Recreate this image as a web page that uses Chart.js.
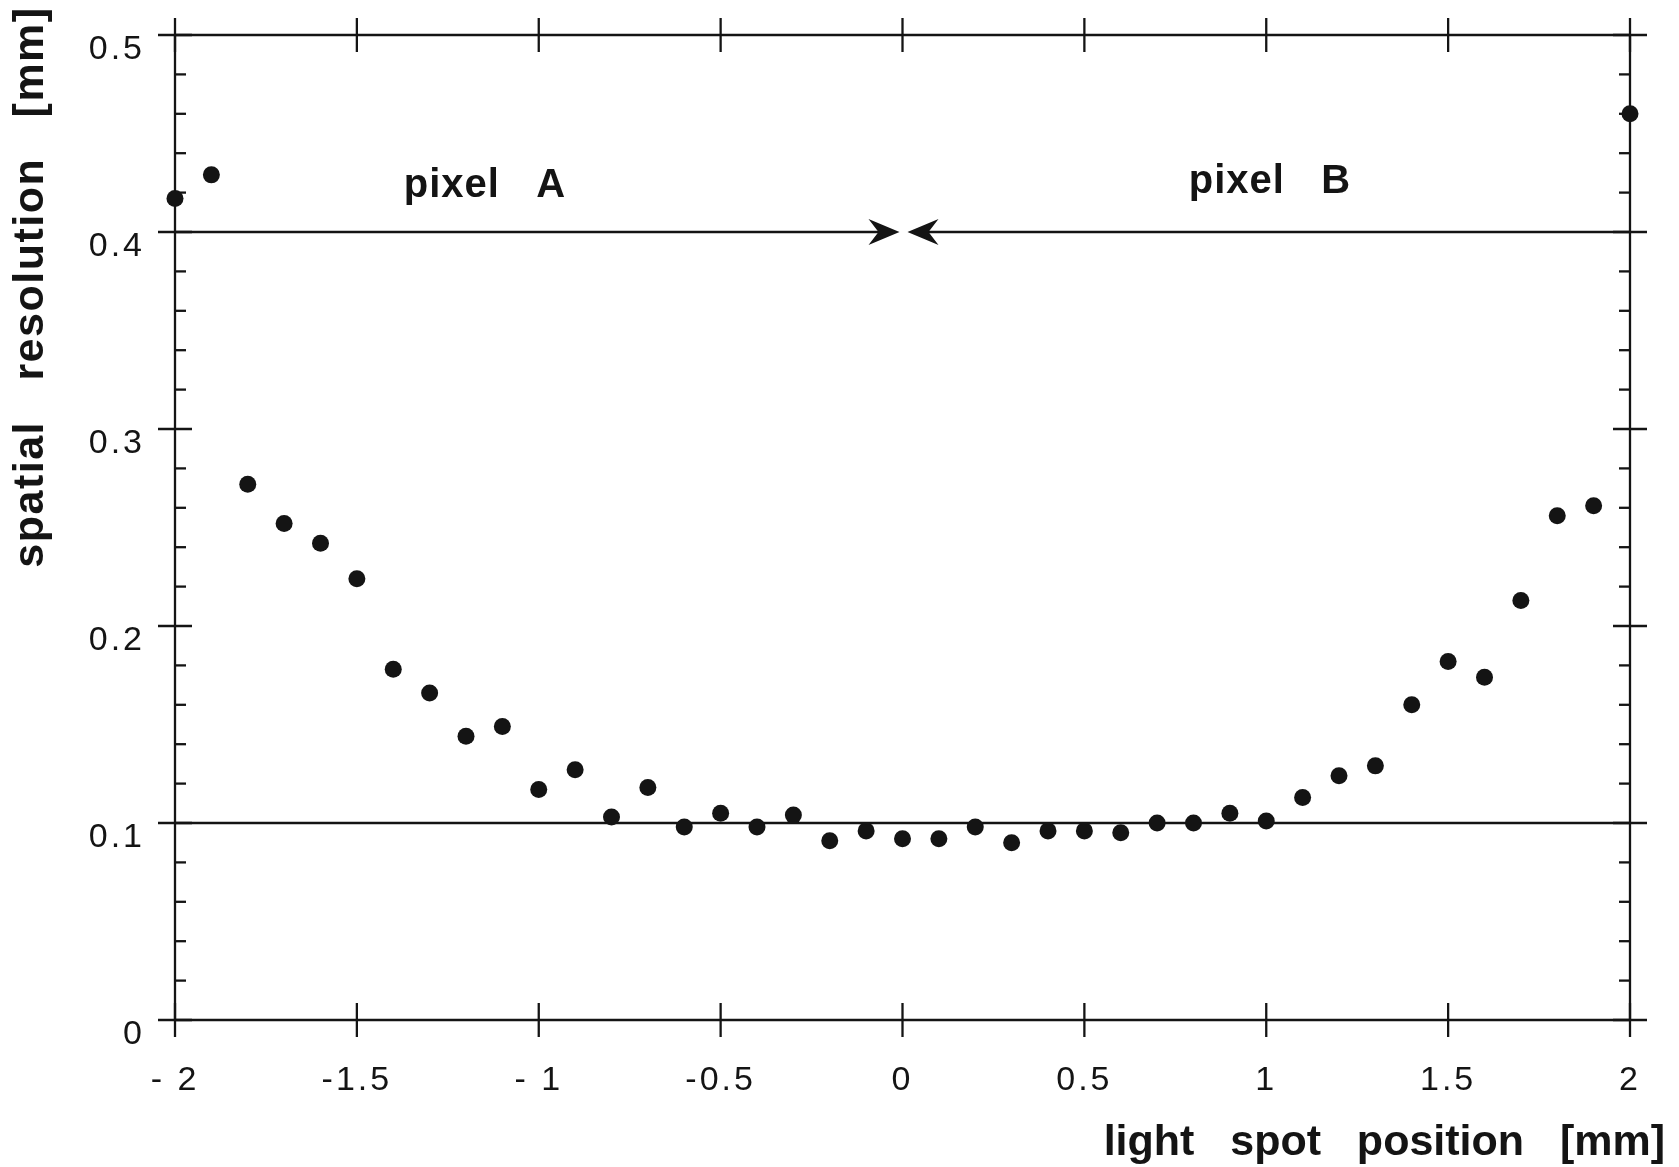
<!DOCTYPE html>
<html>
<head>
<meta charset="utf-8">
<script src="https://cdn.jsdelivr.net/npm/chart.js@4.4.1/dist/chart.umd.min.js"></script>
<style>
html,body{margin:0;padding:0;background:#fff;}
#wrap{width:1679px;height:1167px;position:relative;}
canvas{display:block;}
</style>
</head>
<body>
<div id="wrap"><canvas id="c" width="1679" height="1167"></canvas></div>
<script>
// ---- data ----
const positions = [-2.0,-1.9,-1.8,-1.7,-1.6,-1.5,-1.4,-1.3,-1.2,-1.1,
                   -1.0,-0.9,-0.8,-0.7,-0.6,-0.5,-0.4,-0.3,-0.2,-0.1,
                    0.0, 0.1, 0.2, 0.3, 0.4, 0.5, 0.6, 0.7, 0.8, 0.9,
                    1.0, 1.1, 1.2, 1.3, 1.4, 1.5, 1.6, 1.7, 1.8, 1.9, 2.0];
const resolution = [0.417,0.429,0.272,0.252,0.242,0.224,0.178,0.166,0.144,0.149,
                    0.117,0.127,0.103,0.118,0.098,0.105,0.098,0.104,0.091,0.096,
                    0.092,0.092,0.098,0.090,0.096,0.096,0.095,0.100,0.100,0.105,
                    0.101,0.113,0.124,0.129,0.160,0.182,0.174,0.213,0.256,0.261,0.460];
const xTickValues = [-2,-1.5,-1,-0.5,0,0.5,1,1.5,2];
const xTickLabels = ['- 2','-1.5','- 1','-0.5','0','0.5','1','1.5','2'];
const yTickValues = [0,0.1,0.2,0.3,0.4,0.5];
const yTickLabels = ['0','0.1','0.2','0.3','0.4','0.5'];
const referenceLines = [0.1];
const arrowLineY = 0.4;
const arrowMeetX = 0;
const regionLabels = ['pixel   A','pixel   B'];
const regionLabelX = [-1.148, 1.01];
const regionLabelY = [0.418, 0.420];
const xTitle = 'light   spot   position   [mm]';
const yTitle = 'spatial   resolution   [mm]';

const FONT = '"Liberation Sans", Arial, Helvetica, sans-serif';
const INK = '#141414';

const framePlugin = {
  id: 'frame',
  beforeDraw(chart) {
    chart.ctx.letterSpacing = '3px';
  },
  beforeDatasetsDraw(chart) {
    const {ctx, scales: {x, y}} = chart;
    const L = x.getPixelForValue(x.min), R = x.getPixelForValue(x.max);
    const T = y.getPixelForValue(y.max), B = y.getPixelForValue(y.min);
    ctx.save();
    ctx.strokeStyle = INK; ctx.fillStyle = INK;
    ctx.lineWidth = 2.3; ctx.lineCap = 'butt';
    const seg = (x1, y1, x2, y2) => { ctx.beginPath(); ctx.moveTo(x1, y1); ctx.lineTo(x2, y2); ctx.stroke(); };
    seg(L, T, R, T); seg(L, B, R, B); seg(L, T, L, B); seg(R, T, R, B);
    const MAJ = 17, MIN = 11;
    xTickValues.forEach(v => { const px = x.getPixelForValue(v); seg(px, T - MAJ, px, T + MAJ); seg(px, B - MAJ, px, B + MAJ); });
    yTickValues.forEach(v => { const py = y.getPixelForValue(v); seg(L - MAJ, py, L + MAJ, py); seg(R - MAJ, py, R + MAJ, py); });
    for (let i = 0; i < yTickValues.length - 1; i++) {
      const a = yTickValues[i], b = yTickValues[i + 1];
      for (let k = 1; k < 5; k++) {
        const py = y.getPixelForValue(a + (b - a) * k / 5);
        seg(L, py, L + MIN, py); seg(R - MIN, py, R, py);
      }
    }
    referenceLines.forEach(v => { const py = y.getPixelForValue(v); seg(L, py, R, py); });
    // arrow line
    const ay = y.getPixelForValue(arrowLineY);
    const mx = x.getPixelForValue(arrowMeetX);
    const tipL = mx - 3, tipR = mx + 5;
    seg(L, ay, tipL - 15, ay); seg(tipR + 15, ay, R, ay);
    const head = (tx, d) => {
      ctx.beginPath();
      ctx.moveTo(tx, ay);
      ctx.lineTo(tx - d * 31, ay - 13);
      ctx.lineTo(tx - d * 21, ay);
      ctx.lineTo(tx - d * 31, ay + 13);
      ctx.closePath(); ctx.fill();
    };
    head(tipL, 1); head(tipR, -1);
    ctx.restore();
  },
  afterDraw(chart) {
    const {ctx, scales: {x, y}} = chart;
    const R = x.getPixelForValue(x.max), B = y.getPixelForValue(y.min), T = y.getPixelForValue(y.max);
    ctx.save();
    ctx.fillStyle = INK;
    ctx.letterSpacing = '0px';
    ctx.font = 'bold 43px ' + FONT;
    ctx.textAlign = 'right'; ctx.textBaseline = 'alphabetic';
    ctx.fillText(xTitle, R + 35, B + 135);
    ctx.save();
    ctx.letterSpacing = '1.5px';
    ctx.translate(43, T + 252);
    ctx.rotate(-Math.PI / 2);
    ctx.textAlign = 'center';
    ctx.fillText(yTitle, 0, 0);
    ctx.restore();
    ctx.font = 'bold 40px ' + FONT;
    ctx.letterSpacing = '1px';
    ctx.textAlign = 'center';
    regionLabels.forEach((t, i) => {
      ctx.fillText(t, x.getPixelForValue(regionLabelX[i]), y.getPixelForValue(regionLabelY[i]));
    });
    ctx.restore();
  }
};

const noOverflow = s => { s.paddingTop = 0; s.paddingBottom = 0; s.paddingLeft = 0; s.paddingRight = 0; };

new Chart(document.getElementById('c'), {
  type: 'scatter',
  data: {
    datasets: [{
      label: 'spatial resolution',
      data: positions.map((p, i) => ({x: p, y: resolution[i]})),
      pointRadius: 8.5,
      pointHoverRadius: 8.5,
      backgroundColor: INK,
      borderColor: INK,
      borderWidth: 0,
      clip: false
    }]
  },
  options: {
    responsive: false,
    animation: false,
    devicePixelRatio: 1,
    layout: {padding: {top: 35, right: 49, left: 0, bottom: 0}},
    plugins: {legend: {display: false}, tooltip: {enabled: false}},
    scales: {
      x: {
        type: 'linear', min: -2, max: 2,
        afterBuildTicks: s => { s.ticks = xTickValues.map(v => ({value: v})); },
        afterFit: s => { s.height = 147; noOverflow(s); },
        grid: {display: false, drawTicks: false},
        border: {display: false},
        ticks: {
          autoSkip: false, maxRotation: 0, padding: 40, color: INK,
          font: {family: FONT, size: 34},
          callback: v => xTickLabels[xTickValues.indexOf(v)]
        }
      },
      y: {
        type: 'linear', min: 0, max: 0.5,
        afterBuildTicks: s => { s.ticks = yTickValues.map(v => ({value: v})); },
        afterFit: s => { s.width = 175; noOverflow(s); },
        grid: {display: false, drawTicks: false},
        border: {display: false},
        ticks: {
          autoSkip: false, padding: 30, labelOffset: 15, color: INK,
          font: {family: FONT, size: 34},
          callback: v => yTickLabels[yTickValues.indexOf(v)]
        }
      }
    }
  },
  plugins: [framePlugin]
});
</script>
</body>
</html>
